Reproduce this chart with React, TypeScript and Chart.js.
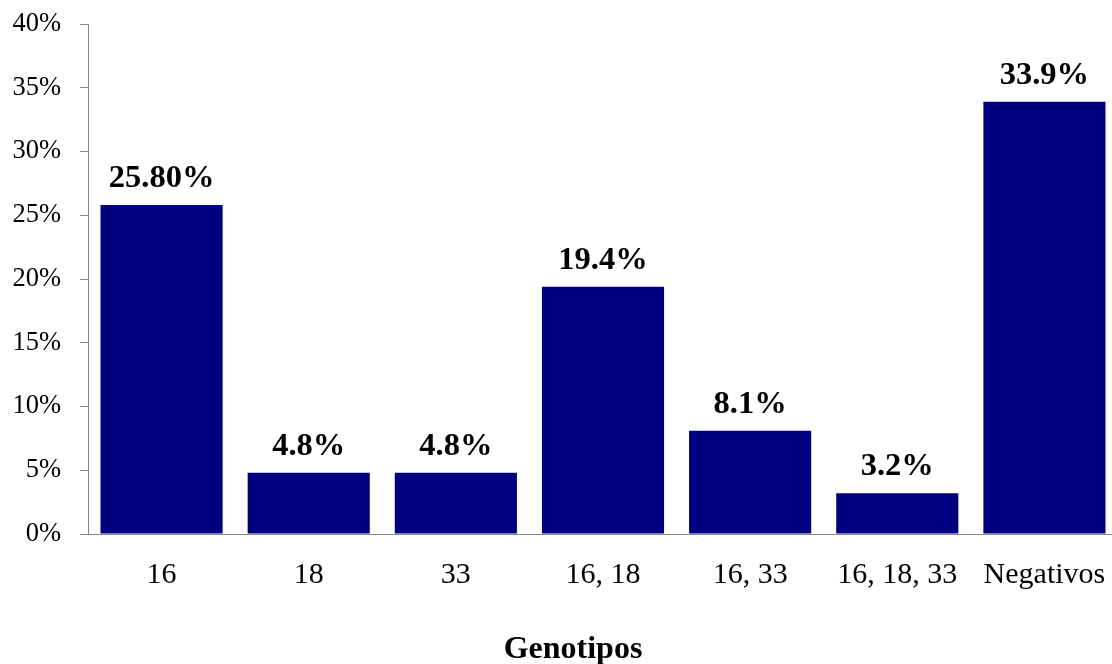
import { useEffect, useRef } from "react";
import { Chart, registerables } from "chart.js";

Chart.register(...registerables);

// Genotype categories and their share of samples (%)
const genotypes = ["16", "18", "33", "16, 18", "16, 33", "16, 18, 33", "Negativos"];
const percentages = [25.8, 4.8, 4.8, 19.4, 8.1, 3.2, 33.9];
// decimals shown in each bar's value label
const labelDecimals = [2, 1, 1, 1, 1, 1, 1];
// y axis range and step (%)
const yMin = 0;
const yMax = 40;
const yStep = 5;
const axisTitle = "Genotipos";

const SERIF = "'Liberation Serif', 'Times New Roman', serif";

// value labels above each bar, plus the category axis title
const annotations = {
  id: "annotations",
  afterDatasetsDraw(chart: any) {
    const ctx = chart.ctx;
    const meta = chart.getDatasetMeta(0);
    ctx.save();
    ctx.font = `bold 32.5px ${SERIF}`;
    ctx.fillStyle = "#000000";
    ctx.textAlign = "center";
    ctx.textBaseline = "alphabetic";
    meta.data.forEach((bar: any, i: number) => {
      const text = `${percentages[i].toFixed(labelDecimals[i])}%`;
      ctx.fillText(text, bar.x, bar.y - 18);
    });

    ctx.font = `bold 32px ${SERIF}`;
    ctx.textBaseline = "middle";
    ctx.fillText(axisTitle, 573, 650);
    ctx.restore();
  },
};

export default function App() {
  const canvasRef = useRef<HTMLCanvasElement | null>(null);

  useEffect(() => {
    if (!canvasRef.current) return;
    const chart = new Chart(canvasRef.current, {
      type: "bar",
      data: {
        labels: genotypes,
        datasets: [
          {
            data: percentages,
            backgroundColor: "#000080",
            borderWidth: 0,
            categoryPercentage: 1,
            barPercentage: 0.83,
          },
        ],
      },
      options: {
        animation: false,
        responsive: false,
        maintainAspectRatio: false,
        layout: { padding: { top: 24, left: 13, right: 0, bottom: 0 } },
        plugins: {
          legend: { display: false },
          tooltip: { enabled: false },
        },
        scales: {
          x: {
            grid: { display: false, drawTicks: false },
            border: { display: true, color: "#888888", width: 1 },
            ticks: {
              color: "#000000",
              font: { family: SERIF, size: 30 },
              padding: 23,
              maxRotation: 0,
              autoSkip: false,
            },
            afterFit: (s: any) => {
              s.height = 130;
              s.paddingLeft = 0;
              s.paddingRight = 0;
            },
          },
          y: {
            min: yMin,
            max: yMax,
            grid: {
              drawOnChartArea: false,
              drawTicks: true,
              tickLength: 8,
              color: "#888888",
            },
            border: { display: true, color: "#888888", width: 1 },
            ticks: {
              stepSize: yStep,
              color: "#000000",
              font: { family: SERIF, size: 26.5 },
              padding: 19,
              callback: (v: any) => `${v}%`,
            },
            afterFit: (s: any) => {
              s.width = 75;
              s.paddingTop = 0;
              s.paddingBottom = 0;
            },
          },
        },
      },
      plugins: [annotations],
    });
    return () => chart.destroy();
  }, []);

  return (
    <div style={{ position: "fixed", left: 0, top: 0, width: 1118, height: 664, background: "#ffffff" }}>
      <canvas ref={canvasRef} width={1118} height={664} style={{ width: 1118, height: 664 }} />
    </div>
  );
}
